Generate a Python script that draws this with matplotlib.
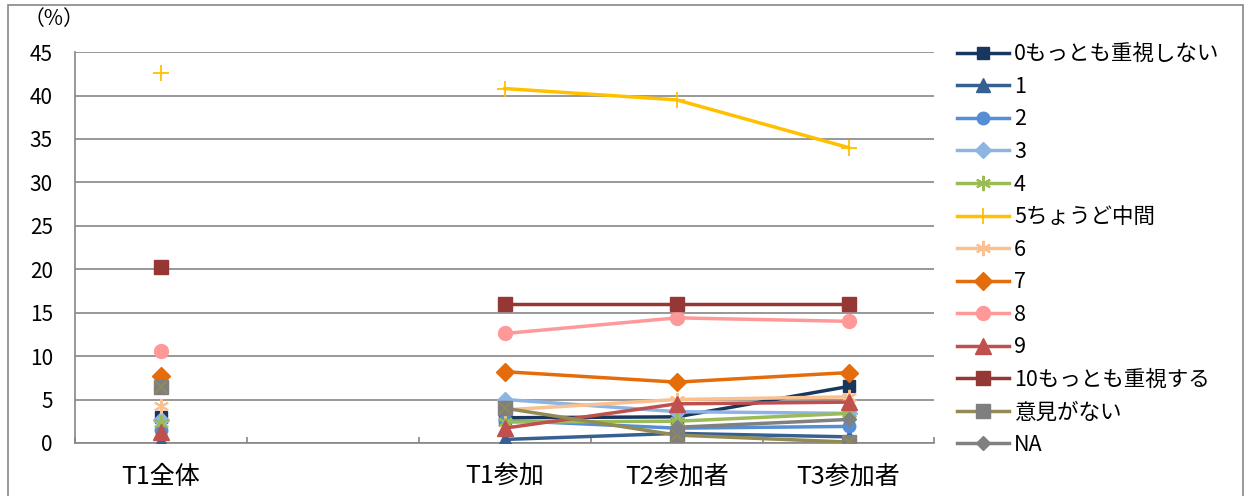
import matplotlib
matplotlib.use('Agg')
import matplotlib.pyplot as plt
import numpy as np
from matplotlib.patches import Rectangle

plt.rcParams['font.family'] = ['Noto Sans CJK JP', 'DejaVu Sans']

# categories (blank slot separates T1全体 from the panel waves)
categories = ["T1全体", "", "T1参加", "T2参加者", "T3参加者"]

labels = ["0もっとも重視しない", "1", "2", "3", "4", "5ちょうど中間", "6", "7", "8", "9",
          "10もっとも重視する", "意見がない", "NA"]

nan = np.nan
s0 = [3.0, nan, 2.9, 3.0, 6.5]
s1 = [0.2, nan, 0.4, 1.1, 0.7]
s2 = [1.5, nan, 2.6, 1.7, 1.9]
s3 = [2.6, nan, 5.0, 3.6, 3.4]
s4 = [2.3, nan, 2.4, 2.5, 3.4]
s5 = [42.6, nan, 40.8, 39.5, 34.0]
s6 = [4.2, nan, 3.8, 5.0, 5.3]
s7 = [7.7, nan, 8.2, 7.0, 8.1]
s8 = [10.6, nan, 12.6, 14.4, 14.0]
s9 = [1.3, nan, 1.7, 4.5, 4.7]
s10 = [20.2, nan, 16.0, 16.0, 16.0]
s_none = [6.4, nan, 4.0, 0.9, 0.1]
s_na = [nan, nan, nan, 1.8, 2.7]

series = [s0, s1, s2, s3, s4, s5, s6, s7, s8, s9, s10, s_none, s_na]

# style per series: line color, marker, marker face, marker edge, marker size
styles = [
    ("#17375E", "s", "#17375E", "#17375E", 9),
    ("#376092", "^", "#376092", "#376092", 10),
    ("#558ED5", "o", "#558ED5", "#558ED5", 9),
    ("#8EB4E3", "D", "#8EB4E3", "#8EB4E3", 8),
    ("#9BBB59", "*", "#9BBB59", "#9BBB59", 0),
    ("#FFC000", "+", "#FFC000", "#FFC000", 12),
    ("#FAC090", "*", "#FAC090", "#FAC090", 0),
    ("#E46C0A", "D", "#E46C0A", "#E46C0A", 9),
    ("#FF9999", "o", "#FF9999", "#FF9999", 10),
    ("#C0504D", "^", "#C0504D", "#C0504D", 11),
    ("#953735", "s", "#953735", "#953735", 10),
    ("#948A54", "s", "#7F7F7F", "#7F7F7F", 10),
    ("#808080", "D", "#808080", "#808080", 7),
]

fig = plt.figure(figsize=(12.51, 4.96), dpi=100)
ax = fig.add_axes([0.06, 0.107, 0.687, 0.788])

x = np.arange(len(categories))
for vals, lab, (col, mk, fc, ec, ms) in zip(series, labels, styles):
    if mk == "*":
        # Excel-style asterisk: x plus vertical bar
        ax.plot(x, vals, color=col, lw=2.5, marker=(6, 2, 0), markersize=11,
                markeredgewidth=1.5, markeredgecolor=col, label=lab, zorder=3)
    elif mk == "+":
        ax.plot(x, vals, color=col, lw=2.5, marker="+", markersize=ms,
                markeredgewidth=1.3, label=lab, zorder=3)
    elif lab == "意見がない":
        ax.plot(x, vals, color=col, lw=2.5, marker="s", markersize=ms,
                markerfacecolor=fc, markeredgecolor=fc, label=lab, zorder=3)
        ax.plot(x, vals, ls="none", marker="x", markersize=ms * 0.8,
                markeredgecolor=col, markeredgewidth=1.2, zorder=3)
    else:
        ax.plot(x, vals, color=col, lw=2.5, marker=mk, markersize=ms,
                markerfacecolor=fc, markeredgecolor=ec, label=lab, zorder=3)

ax.set_xlim(-0.5, len(categories) - 0.5)
ax.set_ylim(0, 45)
ax.set_yticks(np.arange(0, 46, 5))
ax.yaxis.grid(True, color="#868686", lw=1.2)
ax.set_axisbelow(True)
ax.tick_params(axis="y", length=0, labelsize=15, pad=16)

ax.set_xticks(x)
ax.set_xticklabels(categories, fontsize=18)
ax.set_xticks(np.arange(-0.5, len(categories), 1), minor=True)
ax.tick_params(axis="x", which="major", length=0, pad=15)
ax.tick_params(axis="x", which="minor", length=4, direction="in", color="#868686", width=1.2)

for side in ["top", "right"]:
    ax.spines[side].set_visible(False)
for side in ["left", "bottom"]:
    ax.spines[side].set_color("#868686")
    ax.spines[side].set_linewidth(1.2)

fig.text(0.043, 0.962, "（%）", fontsize=15, ha="center", va="center")

handles, labs = ax.get_legend_handles_labels()
leg = fig.legend(handles, labs, loc="upper left", bbox_to_anchor=(0.758, 0.93),
                 frameon=False, fontsize=15.5, handlelength=2.4, handletextpad=0.25,
                 labelspacing=0.49, borderaxespad=0)

fig.patches.append(Rectangle((0.006, -0.01), 0.988, 1.0, transform=fig.transFigure,
                             fill=False, edgecolor="#868686", lw=1.2))

fig.savefig("out.png", dpi=100)
